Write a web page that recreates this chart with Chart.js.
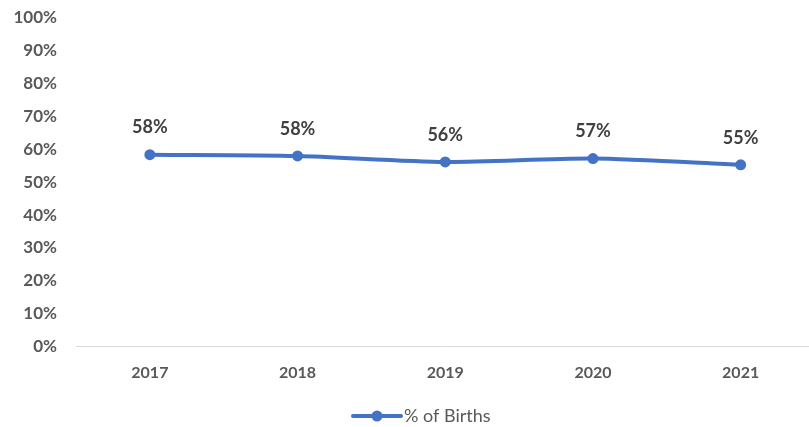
<!DOCTYPE html>
<html><head><meta charset="utf-8">
<script src="https://cdn.jsdelivr.net/npm/chart.js@4.4.1/dist/chart.umd.min.js"></script>
<style>
html,body{margin:0;padding:0;background:#fff;overflow:hidden;}
#wrap{width:820px;height:427px;position:relative;}
</style></head>
<body>
<div id="wrap"><canvas id="c" width="820" height="427"></canvas></div>
<script>
const categories = ['2017', '2018', '2019', '2020', '2021'];
const births = [0.584, 0.580, 0.562, 0.572, 0.553];
const seriesName = '% of Births';
const yTicks = [0, 0.1, 0.2, 0.3, 0.4, 0.5, 0.6, 0.7, 0.8, 0.9, 1.0];

const BLUE = '#4472C4';
const pct = v => Math.round(v * 100) + '%';

const labelPlugin = {
  id: 'pointLabels',
  afterDatasetsDraw(chart) {
    const ctx = chart.ctx;
    const meta = chart.getDatasetMeta(0);
    ctx.save();
    ctx.font = 'bold 18px Lato';
    ctx.fillStyle = '#404040';
    ctx.textAlign = 'center';
    ctx.textBaseline = 'middle';
    meta.data.forEach((pt, i) => {
      ctx.fillText(pct(chart.data.datasets[0].data[i]), pt.x, pt.y - 27);
    });
    ctx.restore();
  }
};

const legendPlugin = {
  id: 'lineLegend',
  afterDraw(chart) {
    const ctx = chart.ctx;
    const x0 = chart.width / 2 - 57;
    const y = 416;
    ctx.save();
    ctx.strokeStyle = BLUE;
    ctx.lineWidth = 4;
    ctx.lineCap = 'round';
    ctx.beginPath();
    ctx.moveTo(x0, y);
    ctx.lineTo(x0 + 48, y);
    ctx.stroke();
    ctx.fillStyle = BLUE;
    ctx.beginPath();
    ctx.arc(x0 + 24, y, 5.5, 0, Math.PI * 2);
    ctx.fill();
    ctx.fillStyle = '#595959';
    ctx.font = '18px Lato';
    ctx.textAlign = 'left';
    ctx.textBaseline = 'middle';
    ctx.fillText(seriesName, x0 + 51, y);
    ctx.restore();
  }
};

new Chart(document.getElementById('c'), {
  type: 'line',
  data: {
    labels: categories,
    datasets: [{
      label: seriesName,
      data: births,
      borderColor: BLUE,
      backgroundColor: BLUE,
      borderWidth: 4,
      pointRadius: 5.5,
      pointHoverRadius: 5.5,
      pointBackgroundColor: BLUE,
      pointBorderWidth: 0,
      tension: 0.25,
      fill: false
    }]
  },
  options: {
    responsive: false,
    animation: false,
    devicePixelRatio: 1,
    layout: { padding: { top: 18, left: 0, right: 0, bottom: 0 } },
    plugins: { legend: { display: false }, tooltip: { enabled: false } },
    scales: {
      x: {
        offset: true,
        grid: { display: false, drawTicks: false },
        border: { display: true, color: '#D9D9D9', width: 1 },
        ticks: { color: '#595959', font: { family: 'Lato', weight: 'bold', size: 16 }, padding: 17 },
        afterFit(scale) { scale.height = 80.5; scale.paddingLeft = 0; scale.paddingRight = 0; }
      },
      y: {
        min: 0, max: 1,
        afterBuildTicks(scale) { scale.ticks = yTicks.map(v => ({ value: v })); },
        grid: { display: false, drawTicks: false },
        border: { display: false },
        ticks: {
          color: '#595959',
          font: { family: 'Lato', weight: 'bold', size: 17 },
          padding: 19,
          callback: v => pct(v)
        },
        afterFit(scale) { scale.width = 76; scale.paddingTop = 0; scale.paddingBottom = 0; }
      }
    }
  },
  plugins: [labelPlugin, legendPlugin]
});
</script>
</body></html>
